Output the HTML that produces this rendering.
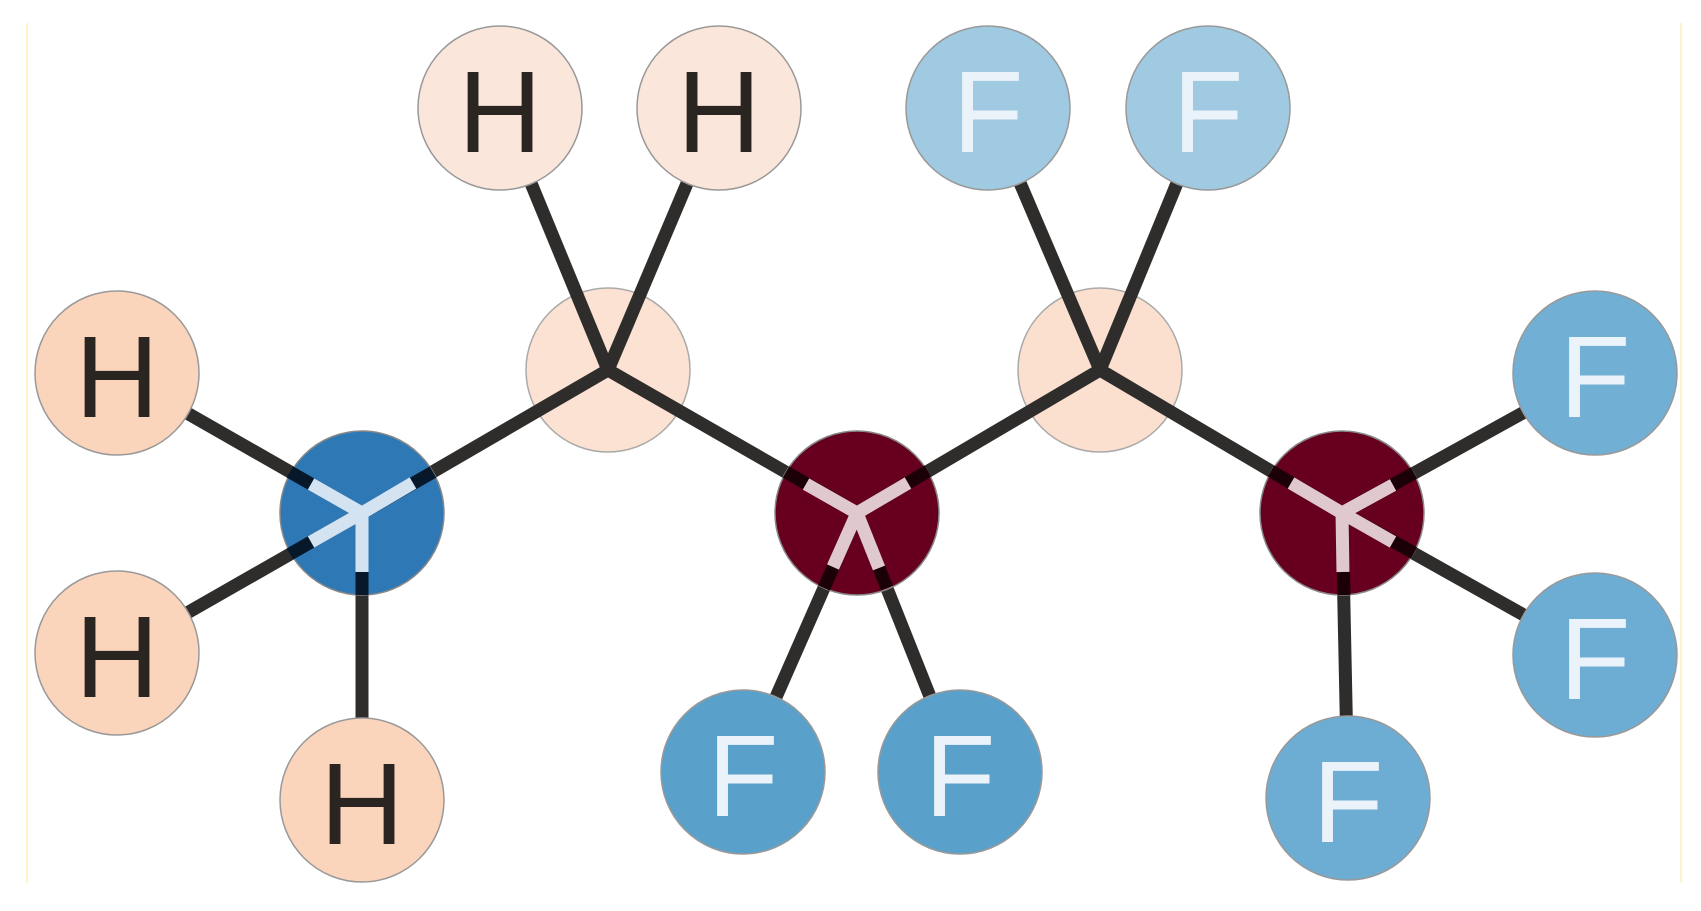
<!DOCTYPE html>
<html><head><meta charset="utf-8"><style>
html,body{margin:0;padding:0;background:#fff;width:1701px;height:911px;overflow:hidden}
svg{display:block}
text{font-family:"Liberation Sans",sans-serif;font-size:116px;text-anchor:middle;dominant-baseline:central}
</style></head><body>
<svg width="1701" height="911" viewBox="0 0 1701 911" xmlns="http://www.w3.org/2000/svg">
<defs><clipPath id="c"><rect x="0" y="23" width="1701" height="860"/></clipPath></defs>
<line x1="27" y1="23" x2="27" y2="883" stroke="#fff3c8" stroke-width="2"/>
<line x1="1681" y1="23" x2="1681" y2="883" stroke="#fff3c8" stroke-width="2"/>
<g clip-path="url(#c)">
<!-- carbon circles (behind bonds) -->
<circle cx="608" cy="370" r="82" fill="#fce2d3" stroke="#aaa" stroke-width="1.5"/>
<circle cx="1100" cy="370" r="82" fill="#fce0cf" stroke="#aaa" stroke-width="1.5"/>
<!-- bonds -->
<g stroke="#2f2d2b" stroke-width="13">
<line x1="117" y1="373" x2="362" y2="513"/>
<line x1="117" y1="653" x2="362" y2="513"/>
<line x1="362" y1="800" x2="362" y2="513"/>
<line x1="362" y1="513" x2="608" y2="370"/>
<line x1="500" y1="108" x2="608" y2="370"/>
<line x1="719" y1="108" x2="608" y2="370"/>
<line x1="608" y1="370" x2="857" y2="513"/>
<line x1="857" y1="513" x2="743" y2="772"/>
<line x1="857" y1="513" x2="960" y2="772"/>
<line x1="857" y1="513" x2="1100" y2="370"/>
<line x1="988" y1="108" x2="1100" y2="370"/>
<line x1="1208" y1="108" x2="1100" y2="370"/>
<line x1="1100" y1="370" x2="1342" y2="513"/>
<line x1="1342" y1="513" x2="1595" y2="373"/>
<line x1="1342" y1="513" x2="1595" y2="655"/>
<line x1="1342" y1="513" x2="1348" y2="800"/>
</g>
<!-- center nodes -->
<circle cx="362" cy="513" r="82" fill="#2e78b6" stroke="#888" stroke-width="1.5"/>
<circle cx="857" cy="513" r="82" fill="#67001f" stroke="#888" stroke-width="1.5"/>
<circle cx="1342" cy="513" r="82" fill="#67001f" stroke="#888" stroke-width="1.5"/>
<!-- inner Y segments -->
<g stroke-width="13">
<g stroke="#07182a">
<line x1="362" y1="513" x2="290" y2="472"/>
<line x1="362" y1="513" x2="290" y2="554"/>
<line x1="362" y1="513" x2="362" y2="595"/>
<line x1="362" y1="513" x2="433" y2="472"/>
</g>
<g stroke="#d3e3f1">
<line x1="362" y1="513" x2="311" y2="484"/>
<line x1="362" y1="513" x2="311" y2="542"/>
<line x1="362" y1="513" x2="362" y2="572"/>
<line x1="362" y1="513" x2="413" y2="483"/>
</g>
<g stroke="#1c0008">
<line x1="857" y1="513" x2="786" y2="472"/>
<line x1="857" y1="513" x2="824" y2="588"/>
<line x1="857" y1="513" x2="887" y2="588"/>
<line x1="857" y1="513" x2="928" y2="471"/>
<line x1="1342" y1="513" x2="1271" y2="471"/>
<line x1="1342" y1="513" x2="1414" y2="473"/>
<line x1="1342" y1="513" x2="1414" y2="553"/>
<line x1="1342" y1="513" x2="1344" y2="595"/>
</g>
<g stroke="#e0c8cf">
<line x1="857" y1="513" x2="806" y2="484"/>
<line x1="857" y1="513" x2="833" y2="567"/>
<line x1="857" y1="513" x2="879" y2="568"/>
<line x1="857" y1="513" x2="908" y2="483"/>
<line x1="1342" y1="513" x2="1291" y2="483"/>
<line x1="1342" y1="513" x2="1393" y2="485"/>
<line x1="1342" y1="513" x2="1393" y2="542"/>
<line x1="1342" y1="513" x2="1343" y2="572"/>
</g>
</g>
<!-- terminal atoms -->
<g stroke="#999" stroke-width="1.5">
<circle cx="117" cy="373" r="82" fill="#fbd4bc"/>
<circle cx="117" cy="653" r="82" fill="#fbd4bc"/>
<circle cx="362" cy="800" r="82" fill="#fbd4bc"/>
<circle cx="500" cy="108" r="82" fill="#fbe6db"/>
<circle cx="719" cy="108" r="82" fill="#fbe6db"/>
<circle cx="988" cy="108" r="82" fill="#9fcae1"/>
<circle cx="1208" cy="108" r="82" fill="#9fcae1"/>
<circle cx="743" cy="772" r="82" fill="#59a1cb"/>
<circle cx="960" cy="772" r="82" fill="#59a1cb"/>
<circle cx="1595" cy="373" r="82" fill="#71afd4"/>
<circle cx="1595" cy="655" r="82" fill="#6eadd3"/>
<circle cx="1348" cy="798" r="82" fill="#6eadd3"/>
</g>
<g fill="#2b2522">
<text x="117" y="377">H</text>
<text x="117" y="657">H</text>
<text x="362" y="804">H</text>
<text x="500" y="112">H</text>
<text x="719" y="112">H</text>
</g>
<g fill="#eaf3f9">
<text x="988" y="112">F</text>
<text x="1208" y="112">F</text>
<text x="743" y="776">F</text>
<text x="960" y="776">F</text>
<text x="1595" y="377">F</text>
<text x="1595" y="659">F</text>
<text x="1348" y="802">F</text>
</g>
</g>
</svg>
</body></html>
